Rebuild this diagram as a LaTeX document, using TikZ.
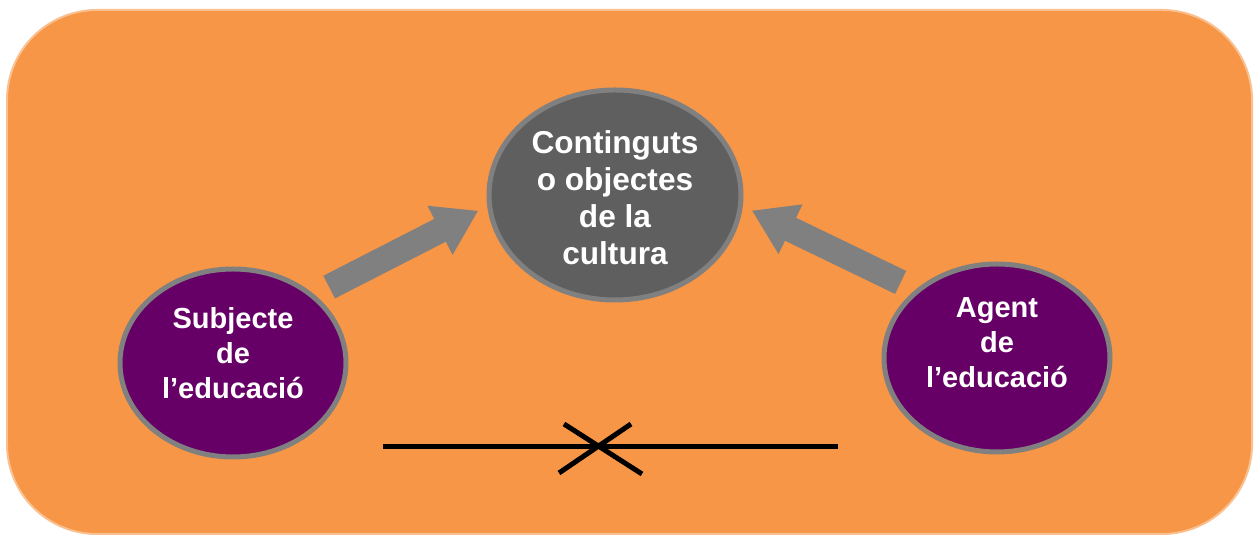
\documentclass[tikz,border=0pt]{standalone}
\usepackage{fontspec}
\setmainfont{Liberation Sans}
\usetikzlibrary{arrows.meta,shapes.geometric}
\definecolor{fons}{HTML}{F79646}
\definecolor{vora}{HTML}{FAC090}
\definecolor{lila}{HTML}{660066}
\definecolor{gris}{HTML}{5F5F5F}
\definecolor{grisclar}{HTML}{808080}
\begin{document}
\begin{tikzpicture}[
    bola/.style={ellipse, draw=grisclar, line width=.1cm, fill=lila,
        minimum width=4.52cm, minimum height=3.76cm, inner sep=0pt},
    gran/.style={bola, fill=gris, minimum width=5.04cm, minimum height=4.2cm},
    texte/.style={text=white, align=center, font=\bfseries\fontsize{16.5}{20}\selectfont},
    textgran/.style={texte, font=\bfseries\fontsize{18}{21}\selectfont},
    fletxa/.style={grisclar, line width=.51cm, -{Triangle[width=1.04cm,length=.86cm]}}]
\useasboundingbox (0,0) rectangle (25.1,10.72);
\draw[vora, line width=.04cm, fill=fons, rounded corners=1.8cm] (.14,.04) rectangle (25.04,10.52);
\node[gran] (cont) at (12.3,6.82) {};
\node[bola] (subj) at (4.66,3.46) {};
\node[bola] (agent) at (19.94,3.56) {};
\node[textgran, yshift=-.06cm] (conttext) at (cont) {Continguts\\o objectes\\de la\\cultura};
\node[texte, yshift=.2cm] (subjtext) at (subj) {Subjecte\\de\\l’educació};
\node[texte, yshift=.3cm] (agenttext) at (agent) {Agent\\de\\l’educació};
% fletxes
\draw[fletxa, shorten <=.33cm, shorten >=.2cm] (subj.40) -- (cont.185);
\draw[fletxa, shorten <=.33cm, shorten >=.2cm] (agent.140) -- (cont.-5);
% linia trencada
\coordinate (creu) at (12,1.78);
\draw[line width=.1cm] (7.66,1.78) -- (16.76,1.78);
\draw[line width=.1cm] (creu) +(-.72,.46) -- +(.84,-.54);
\draw[line width=.1cm] (creu) +(.62,.46) -- +(-.82,-.52);
\end{tikzpicture}
\end{document}
